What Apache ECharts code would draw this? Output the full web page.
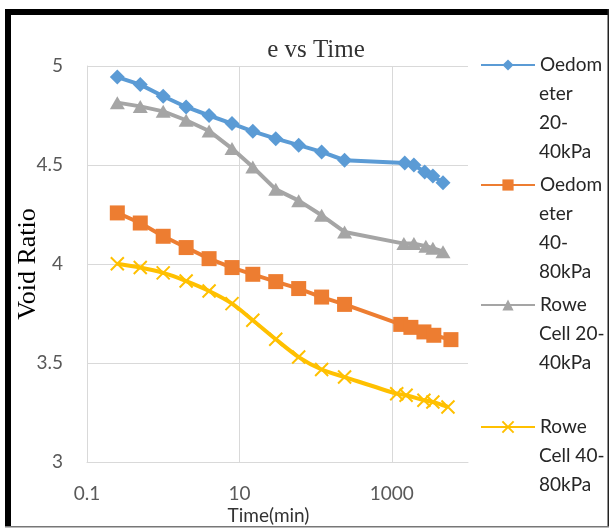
<!DOCTYPE html>
<html><head><meta charset="utf-8">
<script src="https://cdn.jsdelivr.net/npm/echarts@6/dist/echarts.min.js"></script>
<style>html,body{margin:0;padding:0;background:#fff}#c{width:611px;height:530px}</style>
</head><body><div id="c"></div>
<script>
const titleText = 'e vs Time';
const xAxisName = 'Time(min)';
const yAxisName = 'Void Ratio';
const xTickLabels = [0.1, 10, 1000];
const seriesNames = ['Oedometer 20-40kPa', 'Oedometer 40-80kPa', 'Rowe Cell 20-40kPa', 'Rowe Cell 40-80kPa'];
const legendLines = [['Oedom', 'eter', '20-', '40kPa'], ['Oedom', 'eter', '40-', '80kPa'], ['Rowe', 'Cell 20-', '40kPa'], ['Rowe', 'Cell 40-', '80kPa']];

const oed1Time = [0.25, 0.5, 1, 2, 4, 8, 15, 30, 60, 120, 240, 1480, 1950, 2700, 3460, 4700];
const oed1Void = [4.944, 4.906, 4.847, 4.793, 4.750, 4.709, 4.670, 4.633, 4.600, 4.566, 4.524, 4.510, 4.500, 4.465, 4.445, 4.410];
const oed2Time = [0.25, 0.5, 1, 2, 4, 8, 15, 30, 60, 120, 240, 1310, 1780, 2640, 3560, 5970];
const oed2Void = [4.258, 4.207, 4.140, 4.083, 4.027, 3.982, 3.948, 3.911, 3.876, 3.833, 3.796, 3.695, 3.680, 3.657, 3.640, 3.618];
const rowe1Time = [0.25, 0.5, 1, 2, 4, 8, 15, 30, 60, 120, 240, 1440, 1950, 2800, 3460, 4700];
const rowe1Void = [4.815, 4.796, 4.771, 4.726, 4.672, 4.583, 4.490, 4.377, 4.320, 4.246, 4.162, 4.103, 4.103, 4.090, 4.080, 4.062];
const rowe2Time = [0.25, 0.5, 1, 2, 4, 8, 15, 30, 60, 120, 240, 1160, 1540, 2640, 3460, 5460];
const rowe2Void = [4.001, 3.982, 3.955, 3.914, 3.864, 3.800, 3.716, 3.620, 3.530, 3.467, 3.429, 3.345, 3.337, 3.312, 3.303, 3.278];

const colors = ['#5B9BD5', '#ED7D31', '#A5A5A5', '#FFC000'];
const pair = (t, v) => t.map((x, i) => [x, v[i]]);

const LH = 29;
const legendCenters = [65, 185, 305, 427];
const legendFont = { fontFamily: 'Lato', fontSize: 19, lineHeight: LH, color: '#262626' };
const legends = seriesNames.map((name, i) => ({
  data: [name],
  left: 480,
  top: legendCenters[i] - LH / 2,
  padding: 0,
  itemWidth: 54,
  itemHeight: 14,
  selectedMode: false,
  formatter: () => legendLines[i][0],
  textStyle: legendFont
}));
const legendRest = seriesNames.map((name, i) => ({
  type: 'text', x: 539, y: legendCenters[i] + LH / 2, silent: true,
  style: { text: legendLines[i].slice(1).join('\n'), font: '19px Lato', lineHeight: LH, fill: '#262626', verticalAlign: 'top', align: 'left' }
}));

const chart = echarts.init(document.getElementById('c'), null, { renderer: 'canvas' });
chart.setOption({
  animation: false,
  color: colors,
  title: { text: titleText, left: 311, textAlign: 'center', top: 33, textStyle: { fontFamily: 'Liberation Serif', fontSize: 25, fontWeight: 'normal', color: '#333' } },
  legend: legends,
  grid: { left: 87, right: 143, top: 66, bottom: 68, containLabel: false, outerBoundsMode: 'none' },
  xAxis: {
    type: 'log', logBase: 10, min: 0.1, max: 10000,
    name: xAxisName, nameLocation: 'middle', nameGap: 44, nameMoveOverlap: false,
    nameTextStyle: { fontFamily: 'Lato', fontSize: 19, color: '#333', padding: [0, 18, 0, 0] },
    axisLine: { show: true, lineStyle: { color: '#D9D9D9', width: 1 } },
    axisTick: { show: false },
    splitLine: { show: false },
    axisLabel: {
      margin: 22, fontFamily: 'Lato', fontSize: 19, color: '#595959',
      showMaxLabel: false,
      formatter: v => { const m = xTickLabels.find(t => Math.abs(Math.log10(v) - Math.log10(t)) < 1e-6); return m !== undefined ? String(m) : ''; }
    }
  },
  yAxis: {
    type: 'value', min: 3, max: 5, interval: 0.5,
    name: yAxisName, nameLocation: 'middle', nameGap: 46, nameMoveOverlap: false,
    nameTextStyle: { fontFamily: 'Liberation Serif', fontSize: 26, color: '#000' },
    axisLine: { show: true, lineStyle: { color: '#D9D9D9', width: 1 } },
    axisTick: { show: false },
    splitLine: { show: true, lineStyle: { color: '#D9D9D9', width: 1 } },
    axisLabel: { margin: 24, fontFamily: 'Lato', fontSize: 19, color: '#595959' }
  },
  graphic: [
    { type: 'rect', shape: { x: 5, y: 9, width: 6, height: 518 }, style: { fill: '#000' }, z: 100 },
    { type: 'rect', shape: { x: 5, y: 9, width: 604, height: 6 }, style: { fill: '#000' }, z: 100 },
    { type: 'rect', shape: { x: 607.5, y: 9, width: 1.5, height: 518 }, style: { fill: '#222' }, z: 100 },
    { type: 'rect', shape: { x: 5, y: 526, width: 604, height: 1.5 }, style: { fill: '#777' }, z: 100 }
  ].concat(legendRest),
  series: [
    {
      name: seriesNames[0], type: 'line', data: pair(oed1Time, oed1Void),
      symbol: 'diamond', symbolSize: 15, lineStyle: { width: 4, color: colors[0] }, itemStyle: { color: colors[0] },
      markLine: {
        silent: true, z: 1, symbol: ['none', 'none'], label: { show: false },
        lineStyle: { color: '#D9D9D9', width: 1, type: 'solid' },
        emphasis: { disabled: true },
        data: [{ xAxis: 10 }, { xAxis: 1000 }]
      }
    },
    {
      name: seriesNames[1], type: 'line', data: pair(oed2Time, oed2Void),
      symbol: 'rect', symbolSize: 15, lineStyle: { width: 4, color: colors[1] }, itemStyle: { color: colors[1] }
    },
    {
      name: seriesNames[2], type: 'line', data: pair(rowe1Time, rowe1Void),
      symbol: 'triangle', symbolSize: [15, 13], lineStyle: { width: 4, color: colors[2] }, itemStyle: { color: colors[2] }
    },
    {
      name: seriesNames[3], type: 'line', data: pair(rowe2Time, rowe2Void), smooth: 0.3,
      symbol: 'path://M0 0L10 10M10 0L0 10', symbolSize: 13, symbolKeepAspect: true,
      lineStyle: { width: 4, color: colors[3] },
      itemStyle: { color: colors[3], borderColor: colors[3], borderWidth: 2 }
    }
  ]
});
</script>
</body></html>
